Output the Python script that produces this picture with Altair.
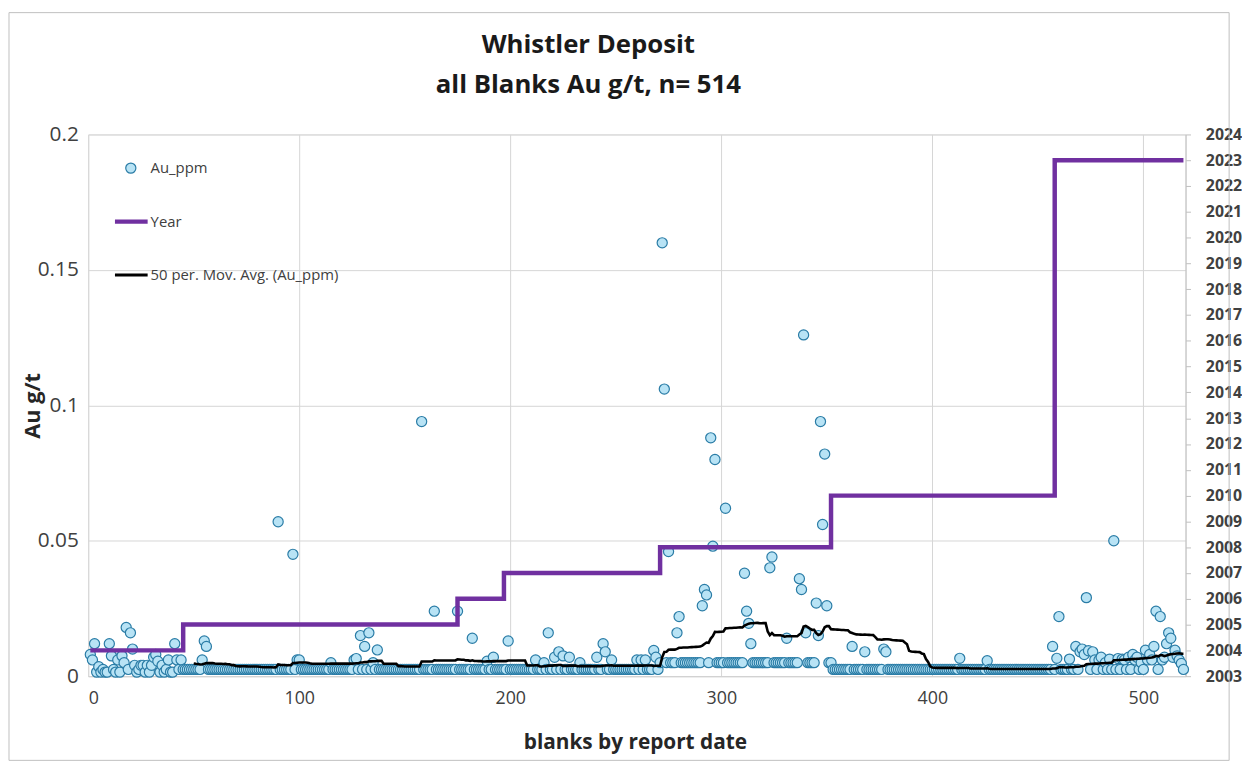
import altair as alt
import pandas as pd

# ---------------- data ----------------
# individual blanks, report order index 1..44 (scattered early results, Au g/t)
early_vals = [0.008, 0.006, 0.012, 0.0015, 0.0035, 0.0015, 0.0025, 0.0015, 0.0015, 0.012,
              0.0075, 0.0025, 0.0015, 0.006, 0.0015, 0.0075, 0.005, 0.018, 0.0025, 0.016,
              0.010, 0.004, 0.0015, 0.0025, 0.004, 0.004, 0.0015, 0.004, 0.0015, 0.004,
              0.007, 0.008, 0.0055, 0.0015, 0.004, 0.0015, 0.0025, 0.006, 0.0015, 0.0015,
              0.012, 0.006, 0.0025, 0.006]
# detection-limit rows (index ranges and their plotted level)
base_start = [45, 271, 353]
base_end = [270, 352, 519]
base_level = [0.0025, 0.005, 0.0025]
# results above the detection-limit rows
out_idx = [54, 55, 56, 90, 97, 99, 100, 115, 126, 127, 129, 131, 133, 135, 137, 158, 164,
           175, 182, 189, 192, 199, 212, 216, 218, 221, 223, 225, 228, 233, 241, 244, 245,
           248, 260, 262, 264, 268, 269,
           272, 273, 275, 279, 280, 291, 292, 293, 295, 296, 297, 302, 311, 312, 313, 314,
           323, 324, 331, 337, 338, 339, 340, 345, 346, 347, 348, 349, 350,
           362, 368, 377, 378, 413, 426, 457, 459, 460, 465, 468, 470, 471, 472, 473, 474,
           476, 477, 479, 480, 482, 484, 486, 488, 490, 491, 493, 495, 496, 497, 499, 501,
           502, 503, 504, 505, 506, 508, 509, 510, 511, 512, 513, 514, 515, 516, 517, 518]
out_val = [0.006, 0.013, 0.011, 0.057, 0.045, 0.006, 0.006, 0.005, 0.006, 0.0065, 0.015,
           0.011, 0.016, 0.005, 0.0097, 0.094, 0.024, 0.024, 0.014, 0.0055, 0.007, 0.013,
           0.006, 0.005, 0.016, 0.007, 0.009, 0.0075, 0.007, 0.005, 0.007, 0.012, 0.009,
           0.006, 0.006, 0.006, 0.006, 0.0095, 0.007,
           0.16, 0.106, 0.046, 0.016, 0.022, 0.026, 0.032, 0.030, 0.088, 0.048, 0.080, 0.062,
           0.038, 0.024, 0.0195, 0.012, 0.040, 0.044, 0.014, 0.036, 0.032, 0.126, 0.016,
           0.027, 0.015, 0.094, 0.056, 0.082, 0.026,
           0.011, 0.009, 0.010, 0.009, 0.0066, 0.0057, 0.011, 0.0066, 0.022, 0.0063, 0.011,
           0.009, 0.010, 0.008, 0.029, 0.0094, 0.009, 0.006, 0.006, 0.007, 0.005, 0.0063,
           0.050, 0.0065, 0.0063, 0.006, 0.007, 0.008, 0.006, 0.007, 0.005, 0.0096, 0.006,
           0.008, 0.006, 0.011, 0.024, 0.022, 0.006, 0.007, 0.012, 0.016, 0.014, 0.007,
           0.0096, 0.0075, 0.006, 0.0047]

# report year steps
year_idx = [1, 45, 175, 197, 271, 352, 458, 519]
year_val = [2004, 2005, 2006, 2007, 2008, 2010, 2023, 2023]

legend_labels = ["Au_ppm", "Year", "50 per. Mov. Avg. (Au_ppm)"]
title_lines = ["Whistler Deposit", "all Blanks Au g/t, n= 514"]

# ---------------- build tables ----------------
vals = {i + 1: v for i, v in enumerate(early_vals)}
for s, e, lv in zip(base_start, base_end, base_level):
    for i in range(s, e + 1):
        vals[i] = lv
for i, v in zip(out_idx, out_val):
    vals[i] = v
df = pd.DataFrame({"idx": sorted(vals), "au": [vals[k] for k in sorted(vals)]})
df["ma"] = df["au"].rolling(50).mean()
ma_df = df.dropna()
yr_df = pd.DataFrame({"idx": year_idx, "year": year_val})

W, H = 1108, 547
FONT = "Open Sans"
PURPLE = "#7030A0"
TXT = "#404040"
PT_FILL = "#b8e3f5"
PT_STROKE = "#2a7ca6"

xs = alt.Scale(domain=[0, 520], nice=False)
ys = alt.Scale(domain=[0, 0.2], nice=False)

points = alt.Chart(df).mark_circle(
    size=105, color=PT_FILL, stroke=PT_STROKE, strokeWidth=1.2, opacity=1
).encode(
    x=alt.X("idx:Q", scale=xs, axis=alt.Axis(
        values=[0, 100, 200, 300, 400, 500], title="blanks by report date",
        titleFontSize=21, titleFontWeight="bold", titleColor="#262626",
        titleX=552, titleY=67, titleBaseline="middle",
        labelFontSize=18, labelColor=TXT, labelPadding=14, tickSize=0,
        domainColor="#d0d0d0", gridColor="#d6d6d6")),
    y=alt.Y("au:Q", scale=ys, axis=alt.Axis(
        values=[0, 0.05, 0.1, 0.15, 0.2], format="~g", title="Au g/t",
        titleFontSize=22, titleFontWeight="bold", titleColor="#262626",
        titleX=-56, titleY=H / 2, titleAngle=-90, titleBaseline="middle", titleAlign="center",
        labelFontSize=21, labelColor=TXT, labelPadding=10, tickSize=0,
        domain=False, gridColor="#d6d6d6")),
)

ma = alt.Chart(ma_df).mark_line(color="black", strokeWidth=2.6).encode(
    x=alt.X("idx:Q", scale=xs),
    y=alt.Y("ma:Q", scale=ys),
)

years = alt.Chart(yr_df).mark_line(color=PURPLE, strokeWidth=4.5, interpolate="step-after").encode(
    x=alt.X("idx:Q", scale=xs),
    y=alt.Y("year:Q", scale=alt.Scale(domain=[2003, 2024], nice=False, zero=False),
            axis=alt.Axis(orient="right", values=list(range(2003, 2025)), format="d",
                          title=None, labelFontSize=16, labelFontWeight="bold",
                          labelColor=TXT, tickSize=5, tickColor="#bfbfbf",
                          labelPadding=15, domainColor="#bfbfbf", grid=False)),
)

one = pd.DataFrame({"k": [0]})
leg_pt = alt.Chart(one).mark_circle(
    size=105, color=PT_FILL, stroke=PT_STROKE, strokeWidth=1.2, opacity=1
).encode(x=alt.value(43), y=alt.value(34))
leg_yr = alt.Chart(one).mark_rule(color=PURPLE, strokeWidth=4.5).encode(
    x=alt.value(27), x2=alt.value(60), y=alt.value(88))
leg_ma = alt.Chart(one).mark_rule(color="black", strokeWidth=3).encode(
    x=alt.value(27), x2=alt.value(60), y=alt.value(142))
leg_df = pd.DataFrame({"label": legend_labels, "pos": [34, 88, 142]})
leg_txt = alt.Chart(leg_df).mark_text(
    align="left", baseline="middle", fontSize=15, font=FONT, color=TXT
).encode(x=alt.value(63), y=alt.Y("pos:Q", scale=None), text="label:N")

title_df = pd.DataFrame({"t": title_lines, "pos": [-90, -50]})
title = alt.Chart(title_df).mark_text(
    align="center", baseline="middle", fontSize=26, fontWeight="bold", font=FONT, color="#1a1a1a"
).encode(x=alt.value(505), y=alt.Y("pos:Q", scale=None), text="t:N")

border = alt.Chart(one).mark_rect(fillOpacity=0, stroke="#bfbfbf", strokeWidth=1).encode(
    x=alt.value(-80), x2=alt.value(1152), y=alt.value(-123), y2=alt.value(632))

left = alt.layer(points, ma)
chart = alt.layer(border, left, years, leg_pt, leg_yr, leg_ma, leg_txt, title).resolve_scale(
    y="independent"
).properties(width=W, height=H, padding=0).configure_view(
    stroke="#d6d6d6", strokeWidth=1
).configure(font=FONT)

chart.save("out.html", embed_options={"renderer": "svg", "actions": False})
